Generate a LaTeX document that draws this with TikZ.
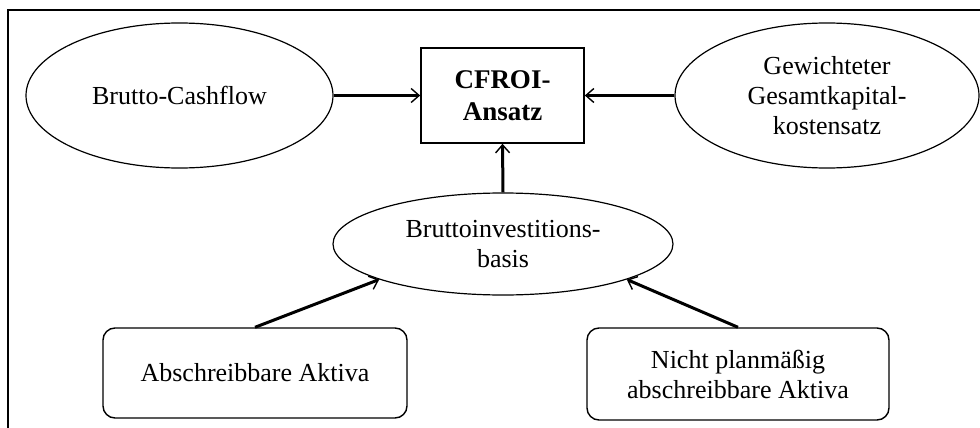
\documentclass[tikz,border=0pt]{standalone}
\usepackage{fontspec}
\setmainfont{Liberation Serif}
\usetikzlibrary{arrows.meta, shapes}

\tikzset{
  oval/.style={draw, ellipse, line width=0.6pt, inner sep=0pt, align=center},
  ansatz/.style={draw, rectangle, line width=0.8pt, inner sep=0pt, align=center, font=\fontsize{13.5}{16}\selectfont\bfseries},
  aktiva/.style={draw, rectangle, rounded corners=6pt, line width=0.7pt, inner sep=0pt, align=center},
  pfeil/.style={line width=1.5pt, -{Straight Barb[length=4pt,width=7pt,line width=0.7pt]}}
}

\begin{document}
\begin{tikzpicture}[x=0.5pt, y=-0.5pt, font=\fontsize{13}{15}\selectfont]
\useasboundingbox (0,0) rectangle (980,428);
\clip (0,0) rectangle (980,428);
\draw[line width=0.8pt] (8,10) rectangle (1000,450);

\node[oval, minimum width=153.5pt, minimum height=72.5pt] (cash) at (179.5,95.5) {Brutto-Cashflow};
\node[ansatz, minimum width=81.5pt, minimum height=47.5pt] (cfroi) at (502.5,95.5) {CFROI-\\Ansatz};
\node[oval, minimum width=152pt, minimum height=72.5pt] (wacc) at (827,95.5) {Gewichteter\\Gesamtkapital-\\kostensatz};
\node[oval, minimum width=170pt, minimum height=51pt] (basis) at (503,244) {Bruttoinvestitions-\\basis};
\node[aktiva, minimum width=152pt, minimum height=45pt] (abschr) at (255,373) {Abschreibbare Aktiva};
\node[aktiva, minimum width=151pt, minimum height=46pt] (nicht) at (738,374) {Nicht planmäßig\\abschreibbare Aktiva};

\draw[pfeil] (cash.east) -- (cfroi.west);
\draw[pfeil] (wacc.west) -- (cfroi.east);
\draw[pfeil] (basis.north) -- (cfroi.south);
\draw[pfeil] (abschr.north) -- (basis.196);
\draw[pfeil] (nicht.north) -- (basis.344);
\end{tikzpicture}
\end{document}
